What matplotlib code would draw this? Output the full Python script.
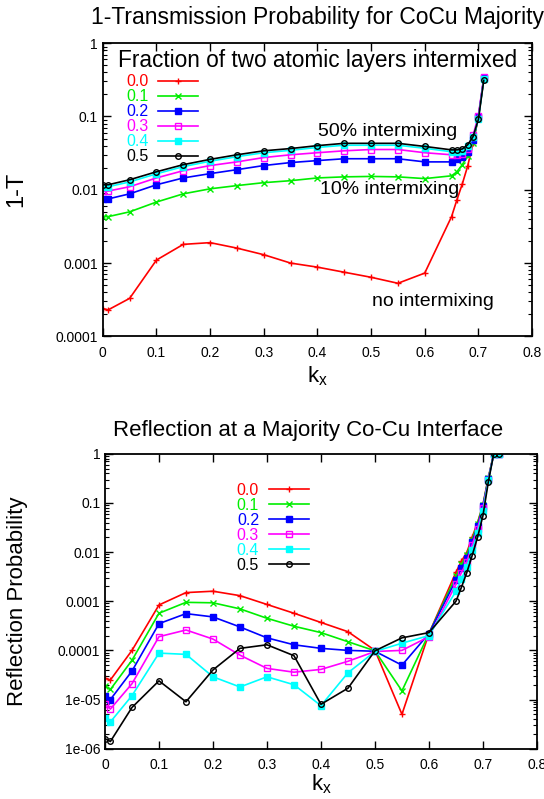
import numpy as np
import matplotlib
matplotlib.use("Agg")
import matplotlib.pyplot as plt
from matplotlib.ticker import FixedLocator, FixedFormatter, LogLocator, NullFormatter

plt.rcParams['font.family'] = ['Liberation Sans', 'DejaVu Sans']

# --- data ---------------------------------------------------------------
fractions = ['0.0', '0.1', '0.2', '0.3', '0.4', '0.5']
colors = ['#ff0000', '#00ee00', '#0000ff', '#ff00ff', '#00ffff', '#000000']

# 1-T (top panel)
kx_top = [0, 0.01, 0.05, 0.1, 0.15, 0.2, 0.25, 0.3, 0.35, 0.4, 0.45, 0.5,
          0.55, 0.6, 0.65, 0.66, 0.67, 0.68, 0.69, 0.7, 0.71]
t_00 = [2.4e-4, 2.3e-4, 3.3e-4, 1.1e-3, 1.8e-3, 1.9e-3, 1.6e-3, 1.3e-3, 1.0e-3, 8.8e-4,
        7.5e-4, 6.4e-4, 5.3e-4, 7.3e-4, 4.3e-3, 7.3e-3, 0.012, 0.021, 0.043, 0.097, 0.32]
t_01 = [4.3e-3, 4.3e-3, 5.0e-3, 6.8e-3, 8.8e-3, 0.0103, 0.0114, 0.0125, 0.0133, 0.0145,
        0.015, 0.0152, 0.015, 0.0142, 0.0155, 0.0176, 0.022, 0.029, 0.044, 0.097, 0.32]
t_02 = [7.5e-3, 7.5e-3, 8.8e-3, 0.0117, 0.0145, 0.0166, 0.0188, 0.0214, 0.0235, 0.025,
        0.0265, 0.0265, 0.0265, 0.024, 0.024, 0.0265, 0.028, 0.033, 0.047, 0.098, 0.33]
t_03 = [9.6e-3, 9.6e-3, 0.011, 0.0145, 0.0182, 0.0214, 0.024, 0.0275, 0.030, 0.032,
        0.034, 0.0354, 0.0354, 0.032, 0.030, 0.030, 0.031, 0.036, 0.055, 0.103, 0.34]
t_04 = [0.011, 0.011, 0.0128, 0.0165, 0.0207, 0.0245, 0.0283, 0.032, 0.0345, 0.0378,
        0.0405, 0.0405, 0.0405, 0.0368, 0.033, 0.033, 0.034, 0.039, 0.052, 0.092, 0.32]
t_05 = [0.0117, 0.0117, 0.0137, 0.0176, 0.022, 0.026, 0.030, 0.034, 0.0365, 0.040,
        0.043, 0.043, 0.043, 0.039, 0.035, 0.035, 0.036, 0.041, 0.053, 0.091, 0.31]
top_series = [t_00, t_01, t_02, t_03, t_04, t_05]

# Reflection probability (bottom panel)
kx_bot = [0, 0.01, 0.05, 0.1, 0.15, 0.2, 0.25, 0.3, 0.35, 0.4, 0.45, 0.5,
          0.55, 0.6, 0.65, 0.66, 0.67, 0.68, 0.69, 0.7, 0.71, 0.72, 0.73]
r_00 = [2.7e-5, 2.5e-5, 1.0e-4, 8.4e-4, 1.5e-3, 1.6e-3, 1.3e-3, 8.6e-4, 5.7e-4, 3.7e-4,
        2.4e-4, 1.0e-4, 5.0e-6, 2.2e-4, 3.9e-3, 6.5e-3, 9.8e-3, 0.020, 0.040, 0.092, 0.33, 1.0, 1.0]
r_01 = [1.9e-5, 1.6e-5, 6.3e-5, 5.7e-4, 9.5e-4, 9.3e-4, 7.0e-4, 4.5e-4, 3.1e-4, 2.3e-4,
        1.5e-4, 9.8e-5, 1.5e-5, 2.2e-4, 3.2e-3, 5.6e-3, 8.8e-3, 0.018, 0.038, 0.090, 0.32, 1.0, 1.0]
r_02 = [1.2e-5, 1.0e-5, 3.8e-5, 3.5e-4, 5.6e-4, 4.8e-4, 3.0e-4, 1.8e-4, 1.3e-4, 1.1e-4,
        1.0e-4, 9.6e-5, 5.0e-5, 2.2e-4, 2.7e-3, 4.7e-3, 7.5e-3, 0.016, 0.034, 0.085, 0.31, 1.0, 1.0]
r_03 = [8.0e-6, 6.4e-6, 2.1e-5, 1.9e-4, 2.6e-4, 1.7e-4, 8.0e-5, 4.3e-5, 3.6e-5, 4.1e-5,
        6.0e-5, 9.5e-5, 1.0e-4, 1.9e-4, 2.2e-3, 3.8e-3, 6.2e-3, 0.014, 0.030, 0.078, 0.30, 1.0, 1.0]
r_04 = [4.3e-6, 3.5e-6, 1.2e-5, 8.8e-5, 8.3e-5, 2.9e-5, 1.8e-5, 2.9e-5, 2.0e-5, 7.5e-6,
        3.5e-5, 9.5e-5, 1.4e-4, 2.0e-4, 1.6e-3, 2.8e-3, 5.0e-3, 0.011, 0.025, 0.068, 0.29, 1.0, 1.0]
r_05 = [1.6e-6, 1.4e-6, 6.9e-6, 2.4e-5, 9.0e-6, 4.0e-5, 1.1e-4, 1.3e-4, 7.8e-5, 8.0e-6,
        1.7e-5, 9.8e-5, 1.8e-4, 2.3e-4, 1.0e-3, 1.9e-3, 3.8e-3, 8.5e-3, 0.020, 0.055, 0.27, 1.0, 1.0]
bot_series = [r_00, r_01, r_02, r_03, r_04, r_05]

markers = ['+', 'x', 's', 's', 's', 'o']
facecolors = [None, None, 'full', 'none', 'full', 'none']

xticks = [0, 0.1, 0.2, 0.3, 0.4, 0.5, 0.6, 0.7, 0.8]
xticklabels = ['0', '0.1', '0.2', '0.3', '0.4', '0.5', '0.6', '0.7', '0.8']
top_yticks = [1e-4, 1e-3, 1e-2, 1e-1, 1]
top_yticklabels = ['0.0001', '0.001', '0.01', '0.1', '1']
bot_yticks = [1e-6, 1e-5, 1e-4, 1e-3, 1e-2, 1e-1, 1]
bot_yticklabels = ['1e-06', '1e-05', '0.0001', '0.001', '0.01', '0.1', '1']


def style_axes(ax, yticks, yticklabels, ylim):
    ax.set_yscale('log')
    ax.set_xlim(0, 0.8)
    ax.set_ylim(*ylim)
    ax.xaxis.set_major_locator(FixedLocator(xticks))
    ax.xaxis.set_major_formatter(FixedFormatter(xticklabels))
    ax.yaxis.set_major_locator(FixedLocator(yticks))
    ax.yaxis.set_major_formatter(FixedFormatter(yticklabels))
    ax.yaxis.set_minor_locator(LogLocator(base=10, subs=np.arange(2, 10)))
    ax.yaxis.set_minor_formatter(NullFormatter())
    ax.tick_params(which='both', direction='in', top=True, right=True, labelsize=10)
    ax.tick_params(which='major', length=6, width=1)
    ax.tick_params(which='minor', length=3, width=0.8)
    ax.tick_params(axis='x', pad=7)
    for s in ax.spines.values():
        s.set_linewidth(1.3)


def plot_panel(ax, kx, series, msize):
    for lab, ys, c, m, f in zip(fractions, series, colors, markers, facecolors):
        kw = dict(color=c, marker=m, lw=1.2, ms=msize, label=lab, mew=1.0)
        if f == 'none':
            kw['mfc'] = 'none'
        ax.plot(kx, ys, **kw)


def add_legend(ax, anchor):
    ax.legend(loc='upper left', bbox_to_anchor=anchor, frameon=False,
              markerfirst=False, labelcolor='linecolor', fontsize=11.5,
              handlelength=2.5, handletextpad=0.6, labelspacing=0.0,
              borderaxespad=0)


fig = plt.figure(figsize=(5.44, 7.99), dpi=100)

# top panel
ax1 = fig.add_axes([0.189, 0.579, 0.789, 0.367])
plot_panel(ax1, kx_top, top_series, 4)
style_axes(ax1, top_yticks, top_yticklabels, (1e-4, 1))
ax1.set_title('1-Transmission Probability for CoCu Majority', fontsize=16.5, pad=14)
ax1.set_ylabel('1-T', fontsize=17)
ax1.yaxis.set_label_coords(-0.175, 0.5)
ax1.set_xlabel(r'k$_\mathregular{x}$', fontsize=16, labelpad=3)
ax1.text(0.5, 0.918, 'Fraction of two atomic layers intermixed', transform=ax1.transAxes,
         ha='center', va='baseline', fontsize=16.3)
ax1.text(0.401, 0.062, '50% intermixing', fontsize=14, ha='left', va='center')
ax1.text(0.405, 0.010, '10% intermixing', fontsize=14, ha='left', va='center')
ax1.text(0.502, 0.0003, 'no intermixing', fontsize=14, ha='left', va='center')
add_legend(ax1, (0.04, 0.915))

# bottom panel
ax2 = fig.add_axes([0.193, 0.063, 0.794, 0.369])
plot_panel(ax2, kx_bot, bot_series, 4)
style_axes(ax2, bot_yticks, bot_yticklabels, (1e-6, 1))
ax2.set_title('Reflection at a Majority Co-Cu Interface', fontsize=16, pad=13, x=0.47)
ax2.set_ylabel('Reflection Probability', fontsize=16)
ax2.yaxis.set_label_coords(-0.178, 0.5)
ax2.set_xlabel(r'k$_\mathregular{x}$', fontsize=16, labelpad=0)
add_legend(ax2, (0.29, 0.924))

fig.savefig('out.png', dpi=100)
